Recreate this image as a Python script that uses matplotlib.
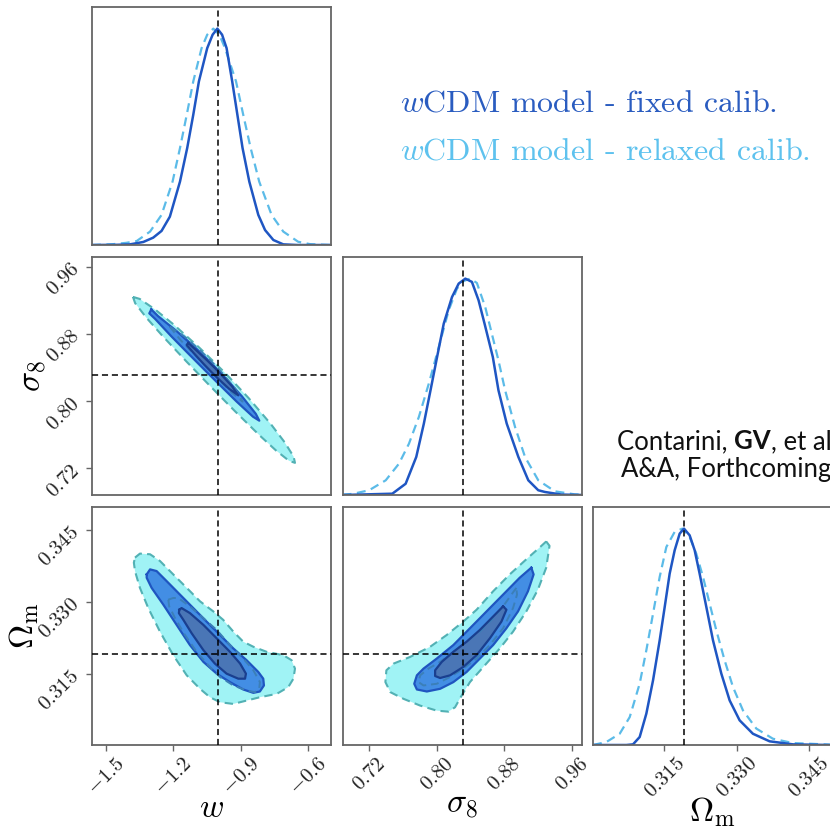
import numpy as np
import matplotlib
matplotlib.use("Agg")
from matplotlib import pyplot as plt

plt.rcParams['mathtext.fontset'] = 'cm'
plt.rcParams['font.family'] = 'serif'
plt.rcParams['font.serif'] = ['DejaVu Serif']

# fiducial values
w_fid = -1.0
s8_fid = 0.8305
om_fid = 0.3191

# axis ranges and ticks
w_lim = (-1.562, -0.50)
s8_lim = (0.688, 0.9715)
om_lim = (0.3002, 0.3498)
w_ticks = [-1.5, -1.2, -0.9, -0.6]
w_labels = [r'$-1.5$', r'$-1.2$', r'$-0.9$', r'$-0.6$']
s8_ticks = [0.72, 0.80, 0.88, 0.96]
s8_labels = [r'$0.72$', r'$0.80$', r'$0.88$', r'$0.96$']
om_ticks = [0.315, 0.330, 0.345]
om_labels = [r'$0.315$', r'$0.330$', r'$0.345$']

# 1D marginals (normalised to peak 1)
w_fixed_x = [-1.562, -1.450, -1.393, -1.334, -1.290, -1.253, -1.216, -1.171, -1.139, -1.112, -1.087, -1.050,
             -1.026, -1.005, -0.984, -0.964, -0.939, -0.916, -0.893, -0.863, -0.823, -0.793, -0.756, -0.712,
             -0.650, -0.501]
w_fixed_p = [0, 0.001, 0.003, 0.014, 0.034, 0.065, 0.131, 0.293, 0.448, 0.602, 0.756, 0.910,
             0.972, 1.0, 0.972, 0.910, 0.756, 0.602, 0.448, 0.293, 0.139, 0.069, 0.023, 0.003,
             0.0, 0]
w_relax_x = [-1.562, -1.467, -1.410, -1.364, -1.304, -1.253, -1.204, -1.171, -1.141, -1.112, -1.075, -1.050,
             -1.023, -0.996, -0.971, -0.922, -0.890, -0.857, -0.819, -0.764, -0.712, -0.646, -0.593, -0.501]
w_relax_p = [0, 0.004, 0.010, 0.018, 0.062, 0.139, 0.293, 0.448, 0.602, 0.756, 0.910, 0.972,
             1.0, 0.972, 0.910, 0.756, 0.602, 0.448, 0.293, 0.139, 0.062, 0.015, 0.004, 0]

s8_fixed_x = [0.6881, 0.7471, 0.7629, 0.7755, 0.7845, 0.7924, 0.8002, 0.8081, 0.8179, 0.8258, 0.8337, 0.8415,
              0.8494, 0.8565, 0.8663, 0.8730, 0.8828, 0.8966, 0.9084, 0.9202, 0.9281, 0.9477, 0.9725]
s8_fixed_p = [0, 0.006, 0.052, 0.176, 0.330, 0.484, 0.638, 0.792, 0.915, 0.977, 1.0, 0.985,
              0.900, 0.792, 0.638, 0.484, 0.330, 0.176, 0.068, 0.022, 0.014, 0.002, 0]
s8_relax_x = [0.6881, 0.7000, 0.7196, 0.7393, 0.7550, 0.7668, 0.7786, 0.7904, 0.8022, 0.8140, 0.8238, 0.8317,
              0.8396, 0.8474, 0.8573, 0.8651, 0.8730, 0.8809, 0.8927, 0.9045, 0.9202, 0.9399, 0.9635, 0.9725]
s8_relax_p = [0.002, 0.005, 0.022, 0.068, 0.145, 0.237, 0.361, 0.515, 0.684, 0.854, 0.954, 0.989,
              1.0, 0.980, 0.869, 0.746, 0.622, 0.484, 0.314, 0.176, 0.068, 0.017, 0.003, 0.002]

om_fixed_x = [0.30021, 0.30713, 0.30851, 0.30989, 0.31127, 0.31266, 0.31404, 0.31508, 0.31611, 0.31715, 0.31819,
              0.31909, 0.32026, 0.32130, 0.32233, 0.32372, 0.32510, 0.32683, 0.32856, 0.33063, 0.33339,
              0.33685, 0.34169, 0.34936]
om_fixed_p = [0, 0, 0.003, 0.037, 0.145, 0.299, 0.484, 0.638, 0.792, 0.900, 0.977,
              1.0, 0.969, 0.900, 0.792, 0.638, 0.484, 0.330, 0.206, 0.114, 0.052,
              0.017, 0.003, 0]
om_relax_x = [0.30021, 0.30298, 0.30574, 0.30782, 0.30989, 0.31127, 0.31266, 0.31404, 0.31542, 0.31715, 0.31874,
              0.32026, 0.32164, 0.32303, 0.32441, 0.32579, 0.32752, 0.32925, 0.33132, 0.33409, 0.33754,
              0.34169, 0.34936]
om_relax_p = [0, 0.014, 0.052, 0.129, 0.284, 0.438, 0.607, 0.777, 0.915, 0.985, 1.0,
              0.961, 0.884, 0.777, 0.653, 0.530, 0.391, 0.268, 0.160, 0.076, 0.029,
              0.009, 0.002]

# 2D contours: (w, sigma8)
ws8_relax95_w = [-1.3799, -1.3501, -1.2822, -1.1988, -1.0813, -0.9702, -0.8653, -0.7671, -0.7065, -0.6662, -0.6601,
                 -0.6864, -0.7450, -0.8184, -0.9264, -1.0342, -1.1424, -1.2501, -1.3207, -1.3702]
ws8_relax95_s8 = [0.92396, 0.92157, 0.90910, 0.89098, 0.86255, 0.83329, 0.80325, 0.77239, 0.75098, 0.73380, 0.72631,
                  0.72871, 0.74118, 0.75929, 0.78772, 0.81698, 0.84702, 0.87788, 0.89929, 0.91647]
ws8_relax68_w = [-1.2156, -1.1526, -1.0804, -1.0305, -0.9836, -0.9265, -0.8926,
                 -0.9434, -1.0061, -1.0539, -1.1030, -1.1695]
ws8_relax68_s8 = [0.88827, 0.87710, 0.85998, 0.84675, 0.83327, 0.81476, 0.79925,
                  0.81045, 0.82755, 0.84078, 0.85425, 0.87278]
ws8_fixed95_w = [-1.2985, -1.2687, -1.1855, -1.1076, -1.0333, -0.9627, -0.8957, -0.8341, -0.8185,
                 -0.8468, -0.9194, -0.9908, -1.0630, -1.1357, -1.2092, -1.2815, -1.3074]
ws8_fixed95_s8 = [0.90906, 0.90114, 0.88314, 0.86431, 0.84506, 0.82549, 0.80549, 0.78467, 0.77651,
                  0.78129, 0.79929, 0.81812, 0.83737, 0.85694, 0.87694, 0.89776, 0.90435]
ws8_fixed68_w = [-1.1341, -1.0972, -1.0502, -1.0160, -0.9827, -0.9396, -0.9119,
                 -0.9517, -0.9987, -1.0329, -1.0662, -1.1093, -1.1415]
ws8_fixed68_s8 = [0.86906, 0.85994, 0.84829, 0.83929, 0.83006, 0.81739, 0.80671,
                  0.81425, 0.82590, 0.83490, 0.84414, 0.85680, 0.86671]

# 2D contours: (w, Omega_m)
wom_relax95_w = [-1.371, -1.349, -1.304, -1.260, -1.201, -1.141, -1.082, -1.023, -0.979, -0.934, -0.890, -0.845,
                 -0.786, -0.712, -0.675, -0.660, -0.667, -0.690, -0.741, -0.816, -0.875, -0.934, -0.993, -1.038,
                 -1.082, -1.141, -1.201, -1.260, -1.312, -1.349, -1.371, -1.376]
wom_relax95_om = [0.33925, 0.34009, 0.33995, 0.33855, 0.33575, 0.33294, 0.33014, 0.32804, 0.32628, 0.32383,
                  0.32173, 0.32067, 0.31962, 0.31892, 0.31787, 0.31612, 0.31402, 0.31226, 0.31086, 0.31016,
                  0.30946, 0.30876, 0.30911, 0.31016, 0.31191, 0.31472, 0.31892, 0.32383, 0.32874, 0.33294,
                  0.33645, 0.33820]
wom_relax68_w = [-1.223, -1.201, -1.179, -1.127, -1.067, -1.008, -0.949, -0.890, -0.845, -0.816, -0.819, -0.838,
                 -0.875, -0.934, -0.993, -1.045, -1.097, -1.149, -1.193, -1.219]
wom_relax68_om = [0.33049, 0.33084, 0.33084, 0.32909, 0.32663, 0.32418, 0.32103, 0.31822, 0.31577, 0.31331,
                  0.31191, 0.31121, 0.31156, 0.31261, 0.31437, 0.31682, 0.31962, 0.32313, 0.32663, 0.32909]
wom_fixed95_w = [-1.319, -1.304, -1.275, -1.230, -1.171, -1.112, -1.053, -0.993, -0.934, -0.875, -0.823, -0.801,
                 -0.798, -0.816, -0.845, -0.890, -0.949, -1.008, -1.067, -1.127, -1.186, -1.245, -1.297, -1.319]
wom_fixed95_om = [0.33575, 0.33680, 0.33645, 0.33434, 0.33154, 0.32874, 0.32593, 0.32313, 0.32032, 0.31787,
                  0.31542, 0.31402, 0.31261, 0.31135, 0.31107, 0.31177, 0.31331, 0.31507, 0.31752, 0.32103,
                  0.32523, 0.32944, 0.33294, 0.33505]
wom_fixed68_w = [-1.174, -1.164, -1.127, -1.067, -1.008, -0.949, -0.904, -0.878, -0.882, -0.912, -0.964, -1.016,
                 -1.067, -1.119, -1.156, -1.176]
wom_fixed68_om = [0.32839, 0.32874, 0.32769, 0.32523, 0.32243, 0.31962, 0.31717, 0.31507, 0.31402, 0.31402,
                  0.31507, 0.31717, 0.31997, 0.32348, 0.32628, 0.32769]

# 2D contours: (sigma8, Omega_m)
s8om_relax95_s8 = [0.92964, 0.93357, 0.92964, 0.91980, 0.90604, 0.89030, 0.87457, 0.85687, 0.83917, 0.82934,
                   0.82147, 0.81361, 0.79984, 0.78018, 0.76051, 0.74478, 0.73888, 0.74006, 0.74871, 0.76838,
                   0.79198, 0.81164, 0.83131, 0.84704, 0.86671, 0.88637, 0.90604, 0.92177]
s8om_relax95_om = [0.34262, 0.34171, 0.33715, 0.33259, 0.32804, 0.32383, 0.32032, 0.31682, 0.31331, 0.31051,
                   0.30806, 0.30715, 0.30736, 0.30841, 0.30981, 0.31121, 0.31331, 0.31577, 0.31717, 0.31857,
                   0.32067, 0.32313, 0.32593, 0.32839, 0.33224, 0.33575, 0.33890, 0.34135]
s8om_relax68_s8 = [0.89424, 0.88834, 0.87851, 0.86671, 0.85097, 0.83524, 0.81951, 0.80378, 0.79001, 0.78018,
                   0.77821, 0.78411, 0.79984, 0.81558, 0.83131, 0.84704, 0.86277, 0.87851, 0.89030, 0.89502]
s8om_relax68_om = [0.33294, 0.33154, 0.32909, 0.32663, 0.32383, 0.32173, 0.31962, 0.31752, 0.31612, 0.31472,
                   0.31331, 0.31261, 0.31296, 0.31437, 0.31612, 0.31822, 0.32103, 0.32453, 0.32874, 0.33154]
s8om_fixed95_s8 = [0.91194, 0.89817, 0.88244, 0.86671, 0.85097, 0.83524, 0.81951, 0.79984, 0.78411, 0.77624,
                   0.77310, 0.77624, 0.78804, 0.80378, 0.81951, 0.83524, 0.85097, 0.86671, 0.88244, 0.89620,
                   0.90800, 0.91469]
s8om_fixed95_om = [0.33715, 0.33505, 0.33224, 0.32944, 0.32663, 0.32383, 0.32103, 0.31822, 0.31612, 0.31472,
                   0.31296, 0.31177, 0.31135, 0.31191, 0.31331, 0.31542, 0.31822, 0.32103, 0.32453, 0.32804,
                   0.33224, 0.33575]
s8om_fixed68_s8 = [0.87851, 0.86671, 0.85097, 0.83524, 0.81951, 0.80574, 0.79788, 0.79788, 0.80378, 0.81558,
                   0.83131, 0.84704, 0.86277, 0.87654, 0.88244]
s8om_fixed68_om = [0.32909, 0.32698, 0.32418, 0.32173, 0.31962, 0.31752, 0.31577, 0.31458, 0.31416, 0.31472,
                   0.31647, 0.31892, 0.32243, 0.32593, 0.32839]

c_fixed = '#1f56c3'
c_relax = '#5bbbe8'
fill_relax95 = '#a0f3f5'
edge_relax = '#52b1b4'
fill_fixed95 = '#438ee4'
edge_fixed95 = '#1f55c0'
fill_fixed68 = '#4a76b6'
edge_fixed68 = '#1a3f8f'
spine_c = '#666666'

fig = plt.figure(figsize=(8.30, 8.27), dpi=100)
W, H = 830.0, 827.0
lefts = [92, 342.5, 593]
tops = [7, 257, 507]
pw, ph = 239, 238


def make_ax(row, col):
    ax = fig.add_axes([lefts[col] / W, 1 - (tops[row] + ph) / H, pw / W, ph / H])
    for s in ax.spines.values():
        s.set_color(spine_c)
        s.set_linewidth(1.3)
    ax.tick_params(direction='out', length=4, width=1, color=spine_c, labelsize=15,
                   labelcolor='#222222', pad=2.5)
    ax.set_xticks([])
    ax.set_yticks([])
    return ax


def closed(a):
    return list(a) + [a[0]]


def draw_2d(ax, r95, r68, f95, f68):
    ax.fill(r95[0], r95[1], color=fill_relax95, lw=0)
    ax.fill(r68[0], r68[1], color=fill_fixed95, lw=0)
    ax.fill(f95[0], f95[1], color=fill_fixed95, lw=0)
    ax.fill(f68[0], f68[1], color=fill_fixed68, lw=0)
    ax.plot(closed(r95[0]), closed(r95[1]), color=edge_relax, lw=1.5, ls=(0, (4, 2.5)))
    ax.plot(closed(f95[0]), closed(f95[1]), color=edge_fixed95, lw=1.6)
    ax.plot(closed(r68[0]), closed(r68[1]), color='#3b7fb8', lw=1.4, ls=(0, (4, 2.5)))
    ax.plot(closed(f68[0]), closed(f68[1]), color=edge_fixed68, lw=1.6)


def fid_lines(ax, x=None, y=None):
    if x is not None:
        ax.axvline(x, color='k', lw=1.1, ls=(0, (4, 2.5)), zorder=5)
    if y is not None:
        ax.axhline(y, color='k', lw=1.1, ls=(0, (4, 2.5)), zorder=5)


# diagonal panels
ax11 = make_ax(0, 0)
ax11.plot(w_relax_x, w_relax_p, color=c_relax, lw=1.6, ls=(0, (4, 2.5)))
ax11.plot(w_fixed_x, w_fixed_p, color=c_fixed, lw=1.8)
fid_lines(ax11, x=w_fid)
ax11.set_xlim(w_lim)
ax11.set_ylim(0, 1.1)

ax22 = make_ax(1, 1)
ax22.plot(s8_relax_x, s8_relax_p, color=c_relax, lw=1.6, ls=(0, (4, 2.5)))
ax22.plot(s8_fixed_x, s8_fixed_p, color=c_fixed, lw=1.8)
fid_lines(ax22, x=s8_fid)
ax22.set_xlim(s8_lim)
ax22.set_ylim(0, 1.1)

ax33 = make_ax(2, 2)
ax33.plot(om_relax_x, om_relax_p, color=c_relax, lw=1.6, ls=(0, (4, 2.5)))
ax33.plot(om_fixed_x, om_fixed_p, color=c_fixed, lw=1.8)
fid_lines(ax33, x=om_fid)
ax33.set_xlim(om_lim)
ax33.set_ylim(0, 1.1)
ax33.set_xticks(om_ticks, labels=om_labels, rotation=45)
ax33.set_xlabel(r'$\Omega_{\rm m}$', fontsize=24, labelpad=-5)

# off-diagonal panels
ax21 = make_ax(1, 0)
draw_2d(ax21, (ws8_relax95_w, ws8_relax95_s8), (ws8_relax68_w, ws8_relax68_s8),
        (ws8_fixed95_w, ws8_fixed95_s8), (ws8_fixed68_w, ws8_fixed68_s8))
fid_lines(ax21, x=w_fid, y=s8_fid)
ax21.set_xlim(w_lim)
ax21.set_ylim(s8_lim)
ax21.set_yticks(s8_ticks, labels=s8_labels, rotation=45)
ax21.set_ylabel(r'$\sigma_8$', fontsize=24, labelpad=-4)

ax31 = make_ax(2, 0)
draw_2d(ax31, (wom_relax95_w, wom_relax95_om), (wom_relax68_w, wom_relax68_om),
        (wom_fixed95_w, wom_fixed95_om), (wom_fixed68_w, wom_fixed68_om))
fid_lines(ax31, x=w_fid, y=om_fid)
ax31.set_xlim(w_lim)
ax31.set_ylim(om_lim)
ax31.set_xticks(w_ticks, labels=w_labels, rotation=45)
ax31.set_yticks(om_ticks, labels=om_labels, rotation=45)
ax31.set_xlabel(r'$w$', fontsize=24, labelpad=-5)
ax31.set_ylabel(r'$\Omega_{\rm m}$', fontsize=24, labelpad=-4)

ax32 = make_ax(2, 1)
draw_2d(ax32, (s8om_relax95_s8, s8om_relax95_om), (s8om_relax68_s8, s8om_relax68_om),
        (s8om_fixed95_s8, s8om_fixed95_om), (s8om_fixed68_s8, s8om_fixed68_om))
fid_lines(ax32, x=s8_fid, y=om_fid)
ax32.set_xlim(s8_lim)
ax32.set_ylim(om_lim)
ax32.set_xticks(s8_ticks, labels=s8_labels, rotation=45)
ax32.set_xlabel(r'$\sigma_8$', fontsize=24, labelpad=-5)

# legend text (Computer Modern)
fig.text(400 / W, 1 - 111 / H, r'$w$CDM model - fixed calib.', fontfamily='cmr10',
         color='#2a5cc0', fontsize=23, ha='left', va='baseline')
fig.text(400 / W, 1 - 160 / H, r'$w$CDM model - relaxed calib.', fontfamily='cmr10',
         color='#5ec2ee', fontsize=23, ha='left', va='baseline')

# reference note
fs_note = 18.5
y1 = 1 - 449 / H
t1 = fig.text(617 / W, y1, 'Contarini, ', fontfamily='Lato', fontsize=fs_note,
              va='baseline', color='#111111')
r = fig.canvas.get_renderer()
bb1 = t1.get_window_extent(r)
t2 = fig.text(bb1.x1 / W, y1, 'GV', fontfamily='Lato', fontsize=fs_note, fontweight='bold',
              va='baseline', color='#111111')
bb2 = t2.get_window_extent(r)
fig.text(bb2.x1 / W, y1, ', et al.', fontfamily='Lato', fontsize=fs_note,
         va='baseline', color='#111111')
fig.text(621 / W, 1 - 477 / H, 'A&A, Forthcoming', fontfamily='Lato', fontsize=fs_note,
         va='baseline', color='#111111')

fig.savefig('out.png', dpi=100)
